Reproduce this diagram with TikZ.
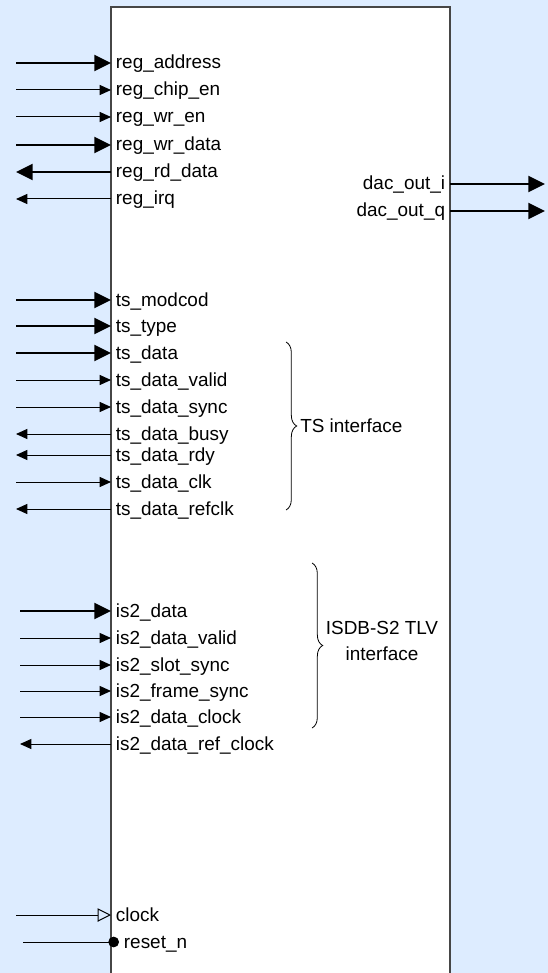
\documentclass[tikz,border=0pt]{standalone}
\usepackage{fontspec}
\setmainfont{Liberation Sans}
\usetikzlibrary{arrows.meta,decorations.pathreplacing}
\definecolor{bgblue}{RGB}{221,236,255}
\definecolor{boxgray}{RGB}{70,70,70}
\tikzset{
  lbl/.style={inner sep=3.5pt, font=\fontsize{14.2}{16}\selectfont},
  pinl/.style={lbl, anchor=base west},
  pinr/.style={lbl, anchor=base east},
  bus/.style={line width=1.5pt, -{Triangle[length=12.5pt,width=12pt]}},
  wire/.style={line width=0.75pt, -{Triangle[length=8.5pt,width=7.5pt]}},
  brc/.style={decorate, decoration={brace, amplitude=8pt}, line width=0.6pt}
}
\begin{document}
\begin{tikzpicture}[x=0.75pt, y=-0.75pt]
\useasboundingbox (0,0) rectangle (548,973);
\clip (0,0) rectangle (548,973);
\fill[bgblue] (0,0) rectangle (548,973);
\draw[boxgray, fill=white, line width=1pt] (111,7) rectangle (450,990);
\node[pinl] (sig0) at (111,69) {reg\_address};
\node[pinl] (sig1) at (111,96) {reg\_chip\_en};
\node[pinl] (sig2) at (111,123) {reg\_wr\_en};
\node[pinl] (sig3) at (111,151) {reg\_wr\_data};
\node[pinl] (sig4) at (111,178) {reg\_rd\_data};
\node[pinl] (sig5) at (111,205) {reg\_irq};
\coordinate (src0) at (16,63);
\coordinate (src1) at (16,90);
\coordinate (src2) at (16,117);
\coordinate (src3) at (16,145);
\coordinate (src4) at (16,172);
\coordinate (src5) at (16,199);
\draw[bus] (src0) -- (src0 -| sig0.west);
\draw[wire] (src1) -- (src1 -| sig1.west);
\draw[wire] (src2) -- (src2 -| sig2.west);
\draw[bus] (src3) -- (src3 -| sig3.west);
\draw[bus] (src4 -| sig4.west) -- (src4);
\draw[wire] (src5 -| sig5.west) -- (src5);
\node[pinr] (sig6) at (450,190) {dac\_out\_i};
\node[pinr] (sig7) at (450,217) {dac\_out\_q};
\coordinate (src6) at (545,184);
\coordinate (src7) at (545,211);
\draw[bus] (src6 -| sig6.east) -- (src6);
\draw[bus] (src7 -| sig7.east) -- (src7);
\node[pinl] (sig8) at (111,306) {ts\_modcod};
\node[pinl] (sig9) at (111,332) {ts\_type};
\node[pinl] (sig10) at (111,359) {ts\_data};
\node[pinl] (sig11) at (111,386) {ts\_data\_valid};
\node[pinl] (sig12) at (111,413) {ts\_data\_sync};
\node[pinl] (sig13) at (111,440) {ts\_data\_busy};
\node[pinl] (sig14) at (111,461) {ts\_data\_rdy};
\node[pinl] (sig15) at (111,488) {ts\_data\_clk};
\node[pinl] (sig16) at (111,515) {ts\_data\_refclk};
\coordinate (src8) at (16,300);
\coordinate (src9) at (16,326);
\coordinate (src10) at (16,353);
\coordinate (src11) at (16,380);
\coordinate (src12) at (16,407);
\coordinate (src13) at (16,434);
\coordinate (src14) at (16,455);
\coordinate (src15) at (16,482);
\coordinate (src16) at (16,509);
\draw[bus] (src8) -- (src8 -| sig8.west);
\draw[bus] (src9) -- (src9 -| sig9.west);
\draw[bus] (src10) -- (src10 -| sig10.west);
\draw[wire] (src11) -- (src11 -| sig11.west);
\draw[wire] (src12) -- (src12 -| sig12.west);
\draw[wire] (src13 -| sig13.west) -- (src13);
\draw[wire] (src14 -| sig14.west) -- (src14);
\draw[wire] (src15) -- (src15 -| sig15.west);
\draw[wire] (src16 -| sig16.west) -- (src16);
\coordinate (ts0) at (286,342);
\coordinate (ts1) at (286,510);
\draw[brc] (ts0) -- (ts1);
\node[lbl, anchor=west, inner sep=1.5pt] (tsnote) at (298,426) {TS interface};
\node[pinl] (sig17) at (111,617) {is2\_data};
\node[pinl] (sig18) at (111,644) {is2\_data\_valid};
\node[pinl] (sig19) at (111,671) {is2\_slot\_sync};
\node[pinl] (sig20) at (111,697) {is2\_frame\_sync};
\node[pinl] (sig21) at (111,723) {is2\_data\_clock};
\node[pinl] (sig22) at (111,750) {is2\_data\_ref\_clock};
\coordinate (src17) at (20,611);
\coordinate (src18) at (20,638);
\coordinate (src19) at (20,665);
\coordinate (src20) at (20,691);
\coordinate (src21) at (20,717);
\coordinate (src22) at (20,744);
\draw[bus] (src17) -- (src17 -| sig17.west);
\draw[wire] (src18) -- (src18 -| sig18.west);
\draw[wire] (src19) -- (src19 -| sig19.west);
\draw[wire] (src20) -- (src20 -| sig20.west);
\draw[wire] (src21) -- (src21 -| sig21.west);
\draw[wire] (src22 -| sig22.west) -- (src22);
\coordinate (is0) at (312,563);
\coordinate (is1) at (312,728);
\draw[brc] (is0) -- (is1);
\node[lbl, align=center, font=\fontsize{14.2}{18.8}\selectfont] (isnote) at (382,641) {ISDB-S2 TLV\\interface};
\node[pinl] (sig23) at (111,921) {clock};
\node[pinl] (sig24) at (119,948) {reset\_n};
\coordinate (src23) at (16,915);
\coordinate (src24) at (23,942);
\draw[line width=0.75pt, -{Triangle[open,length=10pt,width=10pt]}] (src23) -- (src23 -| sig23.west);
\draw[line width=0.75pt, -{Circle[length=8pt]}] (src24) -- (src24 -| sig24.west);
\end{tikzpicture}
\end{document}
